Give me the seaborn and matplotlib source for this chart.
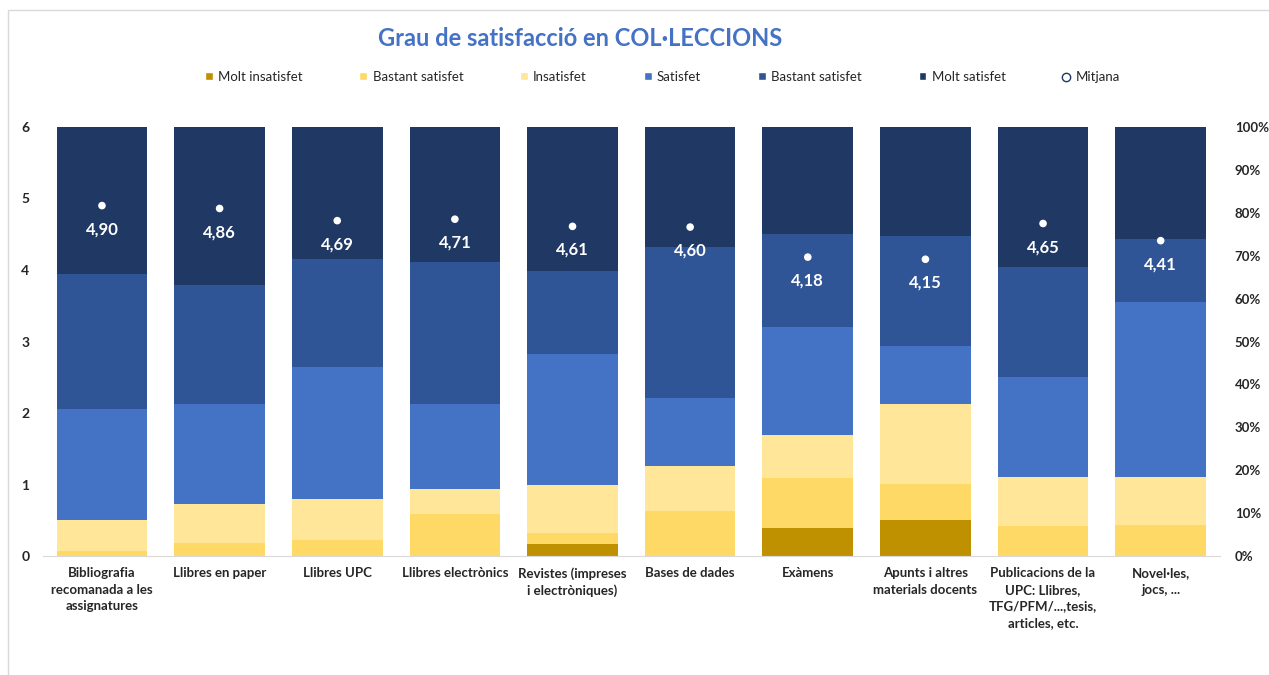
import numpy as np
import pandas as pd
import matplotlib
matplotlib.use("Agg")
import matplotlib.pyplot as plt
from matplotlib.patches import Patch, Rectangle
from matplotlib.lines import Line2D
import seaborn as sns

categories = [
    "Bibliografia\nrecomanada a les\nassignatures",
    "Llibres en paper",
    "Llibres UPC",
    "Llibres electrònics",
    "Revistes (impreses\ni electròniques)",
    "Bases de dades",
    "Exàmens",
    "Apunts i altres\nmaterials docents",
    "Publicacions de la\nUPC: Llibres,\nTFG/PFM/...,tesis,\narticles, etc.",
    "Novel·les,\njocs, ...",
]

# percentages per answer (bottom to top)
molt_insatisfet = [0, 0, 0, 0, 2.8, 0, 6.6, 8.4, 0, 0]
bastant_insatisfet = [1.2, 3.0, 3.7, 9.8, 2.6, 10.5, 11.7, 8.5, 7.0, 7.2]
insatisfet = [7.3, 9.1, 9.7, 5.8, 11.3, 10.6, 10.0, 18.6, 11.5, 11.3]
satisfet = [25.8, 23.3, 30.7, 19.8, 30.5, 15.7, 25.1, 13.5, 23.3, 40.7]
bastant_satisfet = [31.4, 27.8, 25.1, 33.1, 19.3, 35.2, 21.7, 25.6, 25.6, 14.8]
molt_satisfet = [34.3, 36.8, 30.8, 31.5, 33.5, 28.0, 24.9, 25.4, 32.6, 26.0]

mitjana = [4.90, 4.86, 4.69, 4.71, 4.61, 4.60, 4.18, 4.15, 4.65, 4.41]

series = [
    ("Molt insatisfet", molt_insatisfet, "#BF9000"),
    ("Bastant satisfet", bastant_insatisfet, "#FFD966"),
    ("Insatisfet", insatisfet, "#FFE699"),
    ("Satisfet", satisfet, "#4472C4"),
    ("Bastant satisfet", bastant_satisfet, "#2F5597"),
    ("Molt satisfet", molt_satisfet, "#203864"),
]

sns.set_style("white")
plt.rcParams["font.family"] = ["Lato", "DejaVu Sans"]

fig = plt.figure(figsize=(12.69, 6.75), dpi=100)
ax = fig.add_axes([0.034, 0.176, 0.927, 0.636])

bottom = np.zeros(len(categories))
for name, vals, col in series:
    df = pd.DataFrame({"cat": categories, "val": vals})
    sns.barplot(data=df, x="cat", y="val", color=col, bottom=bottom,
                width=0.77, saturation=1, ax=ax, linewidth=0)
    bottom = bottom + np.array(vals)

ax.set_ylim(0, 100)
ax.set_xlim(-0.5, len(categories) - 0.5)
ax.set_xlabel("")
ax.set_ylabel("")
for s in ["top", "left", "right"]:
    ax.spines[s].set_visible(False)
ax.spines["bottom"].set_color("#d9d9d9")
ax.tick_params(axis="x", which="major", length=0, labelsize=9.5, pad=8)
ax.set_xticks(np.arange(-0.5, len(categories)), minor=True)
ax.tick_params(axis="x", which="minor", length=5, color="#d9d9d9")
for t in ax.get_xticklabels():
    t.set_fontweight("bold")
    t.set_linespacing(1.45)
    t.set_va("top")

ax2 = ax.twinx()
ax2.set_ylim(0, 6)
sns.scatterplot(x=categories, y=mitjana, color="white", s=30, edgecolor="none", ax=ax2, zorder=5)
ax2.yaxis.tick_left()
ax2.set_yticks(range(0, 7))
ax2.tick_params(axis="y", length=0, labelsize=10, pad=10)
for t in ax2.get_yticklabels():
    t.set_fontweight("bold")
for s in ["top", "left", "right", "bottom"]:
    ax2.spines[s].set_visible(False)
for i, m in enumerate(mitjana):
    ax2.annotate(f"{m:.2f}".replace(".", ","), (i, m), xytext=(0, -17),
                 textcoords="offset points", ha="center", va="center",
                 color="white", fontsize=12, fontweight="bold")

# percent axis goes on the right (set after twinx, which moves it left)
ax.yaxis.tick_right()
ax.set_yticks(np.arange(0, 101, 10))
ax.set_yticklabels([f"{v}%" for v in range(0, 101, 10)])
ax.tick_params(axis="y", length=0, labelsize=9.5, pad=11)
for t in ax.get_yticklabels():
    t.set_fontweight("bold")

fig.text(0.457, 0.943, "Grau de satisfacció en COL·LECCIONS", ha="center", va="center",
         fontsize=17, fontweight="bold", color="#4472C4")

handles = [Patch(facecolor=c, label=n) for n, _, c in series]
handles.append(Line2D([], [], marker="o", linestyle="none", markerfacecolor="white",
                      markeredgecolor="#203864", markersize=6, label="Mitjana"))
fig.legend(handles=handles, loc="center", bbox_to_anchor=(0.522, 0.886), ncol=7,
           frameon=False, fontsize=9.5, handlelength=0.6, handleheight=0.6,
           handletextpad=0.4, columnspacing=4.3)

fig.patches.append(Rectangle((8 / 1269, -0.1), 1.2, 1.1 - 10 / 675, transform=fig.transFigure,
                             fill=False, edgecolor="#d9d9d9", linewidth=1))

fig.savefig("out.png", dpi=100)
